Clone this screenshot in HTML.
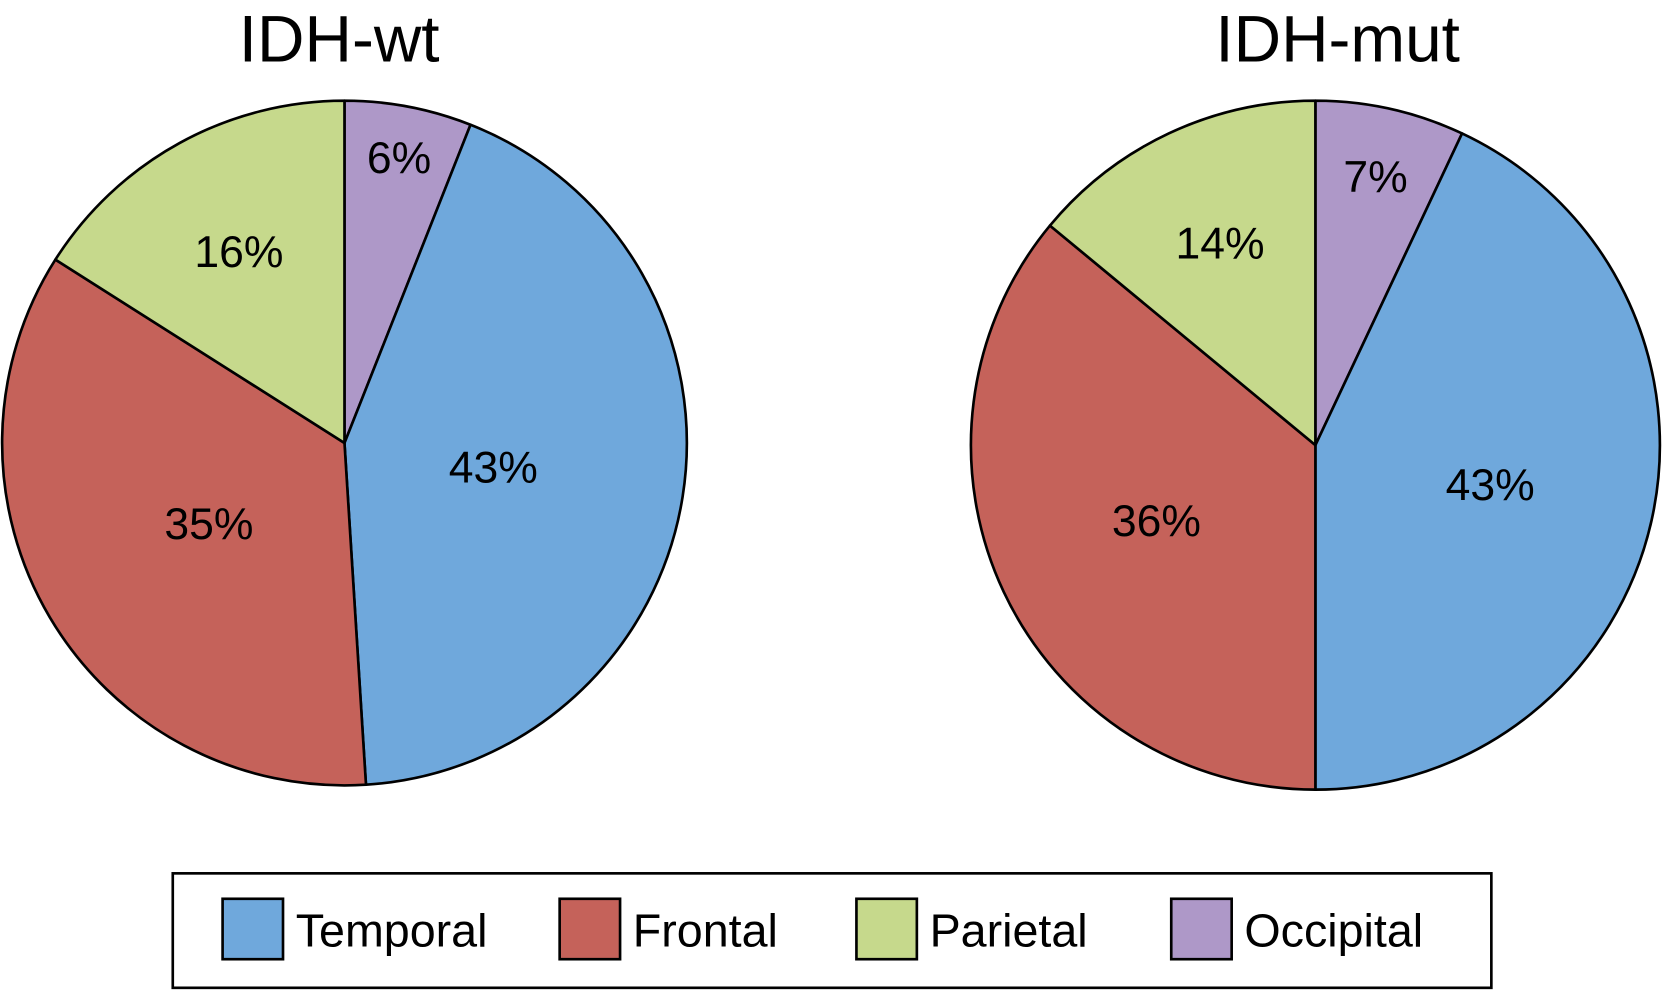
<!DOCTYPE html>
<html>
<head>
<meta charset="utf-8">
<style>
  html, body { margin: 0; padding: 0; background: #ffffff; }
  svg { display: block; font-family: "Liberation Sans", Arial, sans-serif; }
</style>
</head>
<body>
<svg id="chart" width="1662" height="991" viewBox="0 0 1568 935" preserveAspectRatio="none" xmlns="http://www.w3.org/2000/svg">
  <text x="320" y="58" font-size="62" text-anchor="middle" fill="#000">IDH-wt</text>
  <text x="1262" y="58" font-size="62" text-anchor="middle" fill="#000">IDH-mut</text>
  <g id="pies"></g>
  <g id="legend">
    <rect x="163" y="824" width="1244" height="108" fill="#fff" stroke="#000" stroke-width="2.5"/>
  </g>
</svg>
<script>
// Data: clockwise from 12 o'clock
const categories = ["Occipital", "Temporal", "Frontal", "Parietal"];
const wtValues = [6, 43, 35, 16];
const mutValues = [7, 43, 36, 14];
const colors = ["#ae98c8", "#6fa8dc", "#c5625a", "#c6d98c"];
const legendOrder = ["Temporal", "Frontal", "Parietal", "Occipital"];
// label placement (fraction of radius) per slice, styling only
const wtLabelR = [0.85, 0.44, 0.46, 0.64];
const mutLabelR = [0.80, 0.52, 0.51, 0.65];

const NS = "http://www.w3.org/2000/svg";
const pies = document.getElementById("pies");

function pt(cx, cy, r, frac) {
  const a = frac * 2 * Math.PI;
  return [cx + r * Math.sin(a), cy - r * Math.cos(a)];
}

function drawPie(values, cx, cy, r, labelR, id) {
  const total = values.reduce((s, v) => s + v, 0);
  let cum = 0;
  values.forEach((v, i) => {
    const f0 = cum / total, f1 = (cum + v) / total;
    const [x0, y0] = pt(cx, cy, r, f0);
    const [x1, y1] = pt(cx, cy, r, f1);
    const large = (f1 - f0) > 0.5 ? 1 : 0;
    const p = document.createElementNS(NS, "path");
    p.setAttribute("d", `M${cx},${cy} L${x0},${y0} A${r},${r} 0 ${large} 1 ${x1},${y1} Z`);
    p.setAttribute("fill", colors[i]);
    p.setAttribute("stroke", "#000");
    p.setAttribute("stroke-width", "2.5");
    p.setAttribute("stroke-linejoin", "round");
    
    
    pies.appendChild(p);
    const [lx, ly] = pt(cx, cy, r * labelR[i], (f0 + f1) / 2);
    const t = document.createElementNS(NS, "text");
    t.setAttribute("x", lx);
    t.setAttribute("y", ly + 15);
    t.setAttribute("font-size", "42");
    t.setAttribute("text-anchor", "middle");
    t.textContent = v + "%";
    
    
    pies.appendChild(t);
    cum += v;
  });
}

drawPie(wtValues, 325, 418, 323, wtLabelR, "idh-wt");
drawPie(mutValues, 1241, 420, 325, mutLabelR, "idh-mut");

const legend = document.getElementById("legend");
const swX = [210, 528, 808, 1105];
legendOrder.forEach((name, i) => {
  const r = document.createElementNS(NS, "rect");
  r.setAttribute("x", swX[i]);
  r.setAttribute("y", 848);
  r.setAttribute("width", 57);
  r.setAttribute("height", 57);
  r.setAttribute("fill", colors[categories.indexOf(name)]);
  r.setAttribute("stroke", "#000");
  r.setAttribute("stroke-width", "2.5");
  
  
  legend.appendChild(r);
  const t = document.createElementNS(NS, "text");
  t.setAttribute("x", swX[i] + 69);
  t.setAttribute("y", 893);
  t.setAttribute("font-size", "44");
  t.textContent = name;
  
  
  legend.appendChild(t);
});
</script>
</body>
</html>
